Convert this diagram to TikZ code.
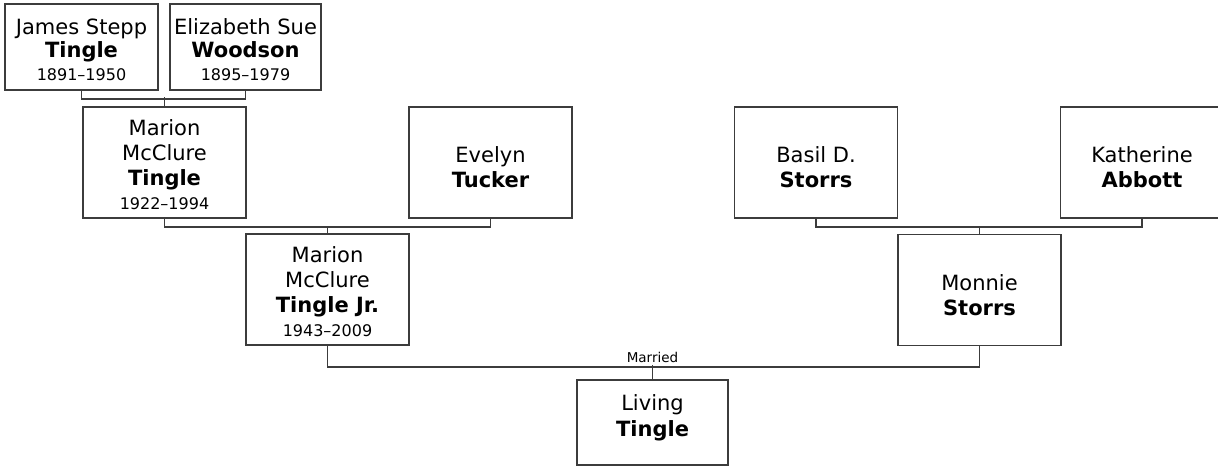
\documentclass[tikz,border=0pt]{standalone}
\usepackage{fontspec}
\setmainfont{DejaVu Sans}
\usetikzlibrary{positioning}
\definecolor{boxline}{RGB}{60,60,60}
\definecolor{linkline}{RGB}{60,60,60}
\newcommand{\yrs}[1]{{\fontsize{16}{18}\selectfont #1}}
\newcommand{\lift}[1]{\rule{0pt}{#1}}
\tikzset{
  person/.style={
    rectangle, draw=boxline, line width=1.5pt, fill=white,
    align=center, inner sep=0pt, minimum width=163pt, minimum height=111pt,
    font=\fontsize{21}{25}\selectfont
  },
  top/.style={person, minimum height=86pt},
  link/.style={draw=linkline, line width=1.7pt},
  lbl/.style={font=\fontsize{13.5}{15}\selectfont, inner sep=1.5pt, above}
}
\begin{document}
\begin{tikzpicture}[x=1pt, y=-1pt]
  \useasboundingbox[fill=white] (0,0) rectangle (1218,466);

  %% ── прадеды по отцовской линии ──────────────────────────
  \node[top, minimum width=153pt] (james) at (81.5,47)
    {\lift{22pt}James Stepp\\[-2pt]\textbf{Tingle}\\[-2pt]\yrs{1891–1950}};
  \node[top, minimum width=151pt] (elizabeth) at (245.5,47)
    {\lift{22pt}Elizabeth Sue\\[-2pt]\textbf{Woodson}\\[-2pt]\yrs{1895–1979}};

  %% ── деды ────────────────────────────────────────────────
  \node[person] (marion) at (164.5,162.5)
    {\lift{20pt}Marion\\McClure\\\textbf{Tingle}\\[-1pt]\yrs{1922–1994}};
  \node[person] (evelyn) at (490.5,162.5) {\lift{25.5pt}Evelyn\\\textbf{Tucker}};
  \node[person] (basil) at (816,162.5) {\lift{25.5pt}Basil D.\\\textbf{Storrs}};
  \node[person] (katherine) at (1142,162.5) {\lift{25.5pt}Katherine\\\textbf{Abbott}};

  %% ── родители ────────────────────────────────────────────
  \node[person] (marionjr) at (327.5,289.5)
    {\lift{21pt}Marion\\McClure\\\textbf{Tingle Jr.}\\[-1pt]\yrs{1943–2009}};
  \node[person] (monnie) at (979.5,290) {\lift{25.5pt}Monnie\\\textbf{Storrs}};

  %% ── ребёнок ─────────────────────────────────────────────
  \node[person, minimum width=151pt, minimum height=85pt] (living) at (652.5,422.5)
    {Living\\[1pt]\textbf{Tingle}\\[-11pt]};

  %% ── связи ───────────────────────────────────────────────
  \draw[link] (james.south) -- ++(0,8) -| (elizabeth.south);
  \draw[link] (marion.north) -- ++(0,-9);
  \draw[link] (marion.south) -- ++(0,8) -| (evelyn.south);
  \draw[link] (marionjr.north) -- ++(0,-7);
  \draw[link] (basil.south) -- ++(0,8) -| (katherine.south);
  \draw[link] (monnie.north) -- ++(0,-8);
  \draw[link] (marionjr.south) -- ++(0,21) coordinate (wed) -| (monnie.south);
  \draw[link] (living.north) -- ++(0,-14) node[lbl] (married) {Married};
\end{tikzpicture}
\end{document}
